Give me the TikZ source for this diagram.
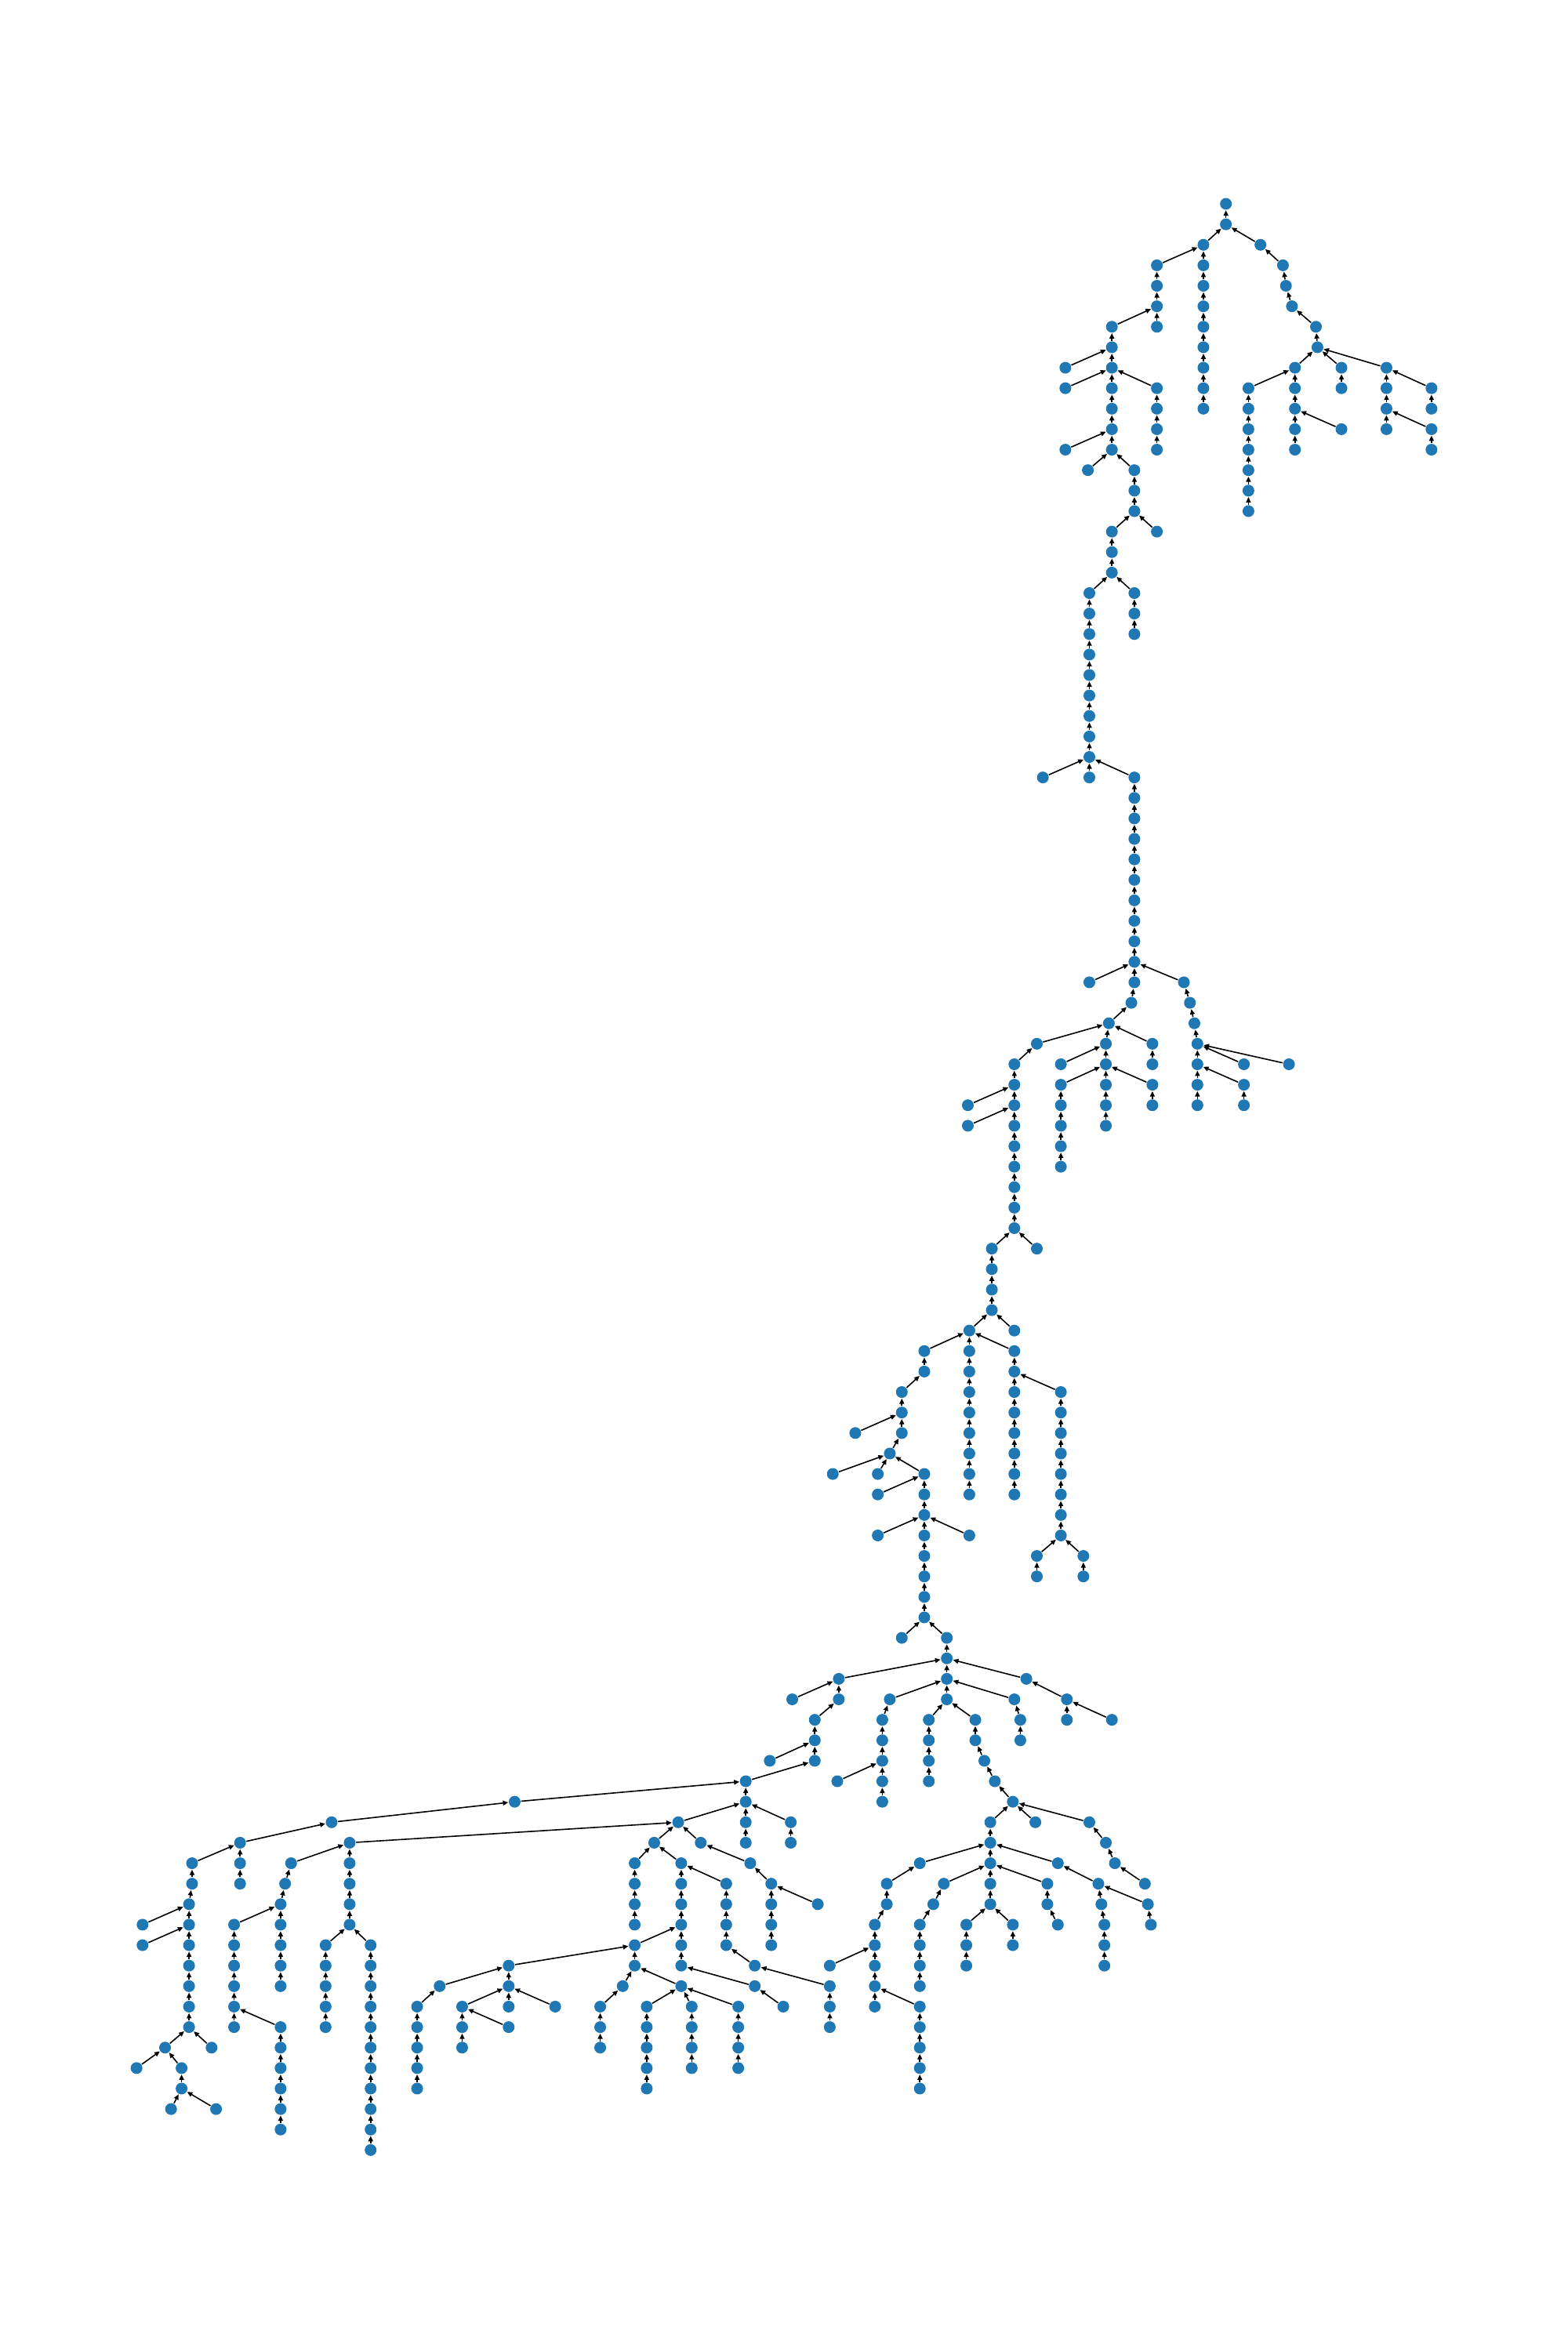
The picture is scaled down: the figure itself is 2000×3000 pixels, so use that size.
\documentclass[tikz,border=0pt]{standalone}
\usetikzlibrary{arrows.meta}
\definecolor{nxblue}{RGB}{31,119,180}
\tikzset{
  dot/.style={circle,fill=nxblue,draw=none,inner sep=0pt,minimum size=0.15cm},
  edgearrow/.style={draw=black,line width=0.016cm,-{Triangle[length=0.068cm,width=0.06cm]}}
}
\def\E{817/1/817/0,
802/2/817/1, 840/2/817/1,
771/3/802/2, 802/3/802/2, 855/3/840/2,
771/4/771/3, 802/4/802/3, 857/4/855/3,
771/5/771/4, 802/5/802/4, 861/5/857/4,
741/6/771/5, 771/6/771/5, 802/6/802/5, 877/6/861/5,
741/7/741/6, 802/7/802/6, 878/7/877/6,
710/8/741/7, 741/8/741/7, 802/8/802/7, 863/8/878/7, 894/8/878/7, 924/8/878/7,
710/9/741/8, 741/9/741/8, 771/9/741/8, 802/9/802/8, 832/9/863/8, 863/9/863/8, 894/9/894/8, 924/9/924/8, 954/9/924/8,
741/10/741/9, 771/10/771/9, 802/10/802/9, 832/10/832/9, 863/10/863/9, 924/10/924/9, 954/10/954/9,
741/11/741/10, 771/11/771/10, 832/11/832/10, 863/11/863/10, 894/11/863/10, 924/11/924/10, 954/11/924/10,
710/12/741/11, 741/12/741/11, 771/12/771/11, 832/12/832/11, 863/12/863/11, 954/12/954/11,
725/13/741/12, 756/13/741/12, 832/13/832/12,
756/14/756/13, 832/14/832/13,
756/15/756/14, 832/15/832/14,
741/16/756/15, 771/16/756/15,
741/17/741/16,
741/18/741/17,
726/19/741/18, 756/19/741/18,
726/20/726/19, 756/20/756/19,
726/21/726/20, 756/21/756/20,
726/22/726/21, 726/23/726/22, 726/24/726/23, 726/25/726/24, 726/26/726/25, 726/27/726/26,
695/28/726/27, 726/28/726/27, 756/28/726/27,
756/29/756/28, 756/30/756/29, 756/31/756/30, 756/32/756/31, 756/33/756/32, 756/34/756/33, 756/35/756/34, 756/36/756/35,
756/37/756/36,
726/38/756/37, 756/38/756/37, 789/38/756/37,
754/39/756/38, 793/39/789/38,
739/40/754/39, 796/40/793/39,
691/41/739/40, 737/41/739/40, 768/41/739/40, 798/41/796/40,
676/42/691/41, 707/42/737/41, 737/42/737/41, 768/42/768/41, 798/42/798/41, 829/42/798/41, 859/42/798/41,
676/43/676/42, 707/43/737/42, 737/43/737/42, 768/43/737/42, 798/43/798/42, 829/43/798/42,
645/44/676/43, 676/44/676/43, 707/44/707/43, 737/44/737/43, 768/44/768/43, 798/44/798/43, 829/44/829/43,
645/45/676/44, 676/45/676/44, 707/45/707/44, 737/45/737/44,
676/46/676/45, 707/46/707/45,
676/47/676/46, 707/47/707/46,
676/48/676/47, 676/49/676/48, 676/50/676/49,
661/51/676/50, 691/51/676/50,
661/52/661/51, 661/53/661/52, 661/54/661/53,
646/55/661/54, 676/55/661/54,
616/56/646/55, 646/56/646/55, 676/56/646/55,
616/57/616/56, 646/57/646/56, 676/57/676/56,
601/58/616/57, 646/58/646/57, 676/58/676/57, 707/58/676/57,
601/59/601/58, 646/59/646/58, 676/59/676/58, 707/59/707/58,
570/60/601/59, 601/60/601/59, 646/60/646/59, 676/60/676/59, 707/60/707/59,
593/61/601/60, 646/61/646/60, 676/61/676/60, 707/61/707/60,
555/62/593/61, 585/62/593/61, 616/62/593/61, 646/62/646/61, 676/62/676/61, 707/62/707/61,
585/63/616/62, 616/63/616/62, 646/63/646/62, 676/63/676/62, 707/63/707/62,
616/64/616/63, 707/64/707/63,
585/65/616/64, 616/65/616/64, 646/65/616/64, 707/65/707/64,
616/66/616/65, 691/66/707/65, 722/66/707/65,
616/67/616/66, 691/67/691/66, 722/67/722/66,
616/68/616/67,
616/69/616/68,
601/70/616/69, 631/70/616/69,
631/71/631/70,
559/72/631/71, 631/72/631/71, 684/72/631/71,
528/73/559/72, 559/73/559/72, 593/73/631/72, 631/73/631/72, 676/73/631/72, 711/73/684/72,
543/74/559/73, 588/74/593/73, 619/74/631/73, 650/74/631/73, 680/74/676/73, 711/74/711/73, 741/74/711/73,
543/75/543/74, 588/75/588/74, 619/75/619/74, 650/75/650/74, 680/75/680/74,
513/76/543/75, 543/76/543/75, 588/76/588/75, 619/76/619/75, 656/76/650/75,
497/77/543/76, 558/77/588/76, 588/77/588/76, 619/77/619/76, 663/77/656/76,
343/78/497/77, 497/78/497/77, 588/78/588/77, 675/78/663/77,
221/79/343/78, 452/79/497/78, 497/79/497/78, 527/79/497/78, 660/79/675/78, 690/79/675/78, 726/79/675/78,
160/80/221/79, 233/80/452/79, 436/80/452/79, 467/80/452/79, 497/80/497/79, 527/80/527/79, 660/80/660/79, 737/80/726/79,
128/81/160/80, 160/81/160/80, 194/81/233/80, 233/81/233/80, 423/81/436/80, 454/81/436/80, 500/81/467/80, 613/81/660/80, 660/81/660/80, 705/81/660/80, 743/81/737/80,
128/82/128/81, 160/82/160/81, 190/82/194/81, 233/82/233/81, 423/82/423/81, 454/82/454/81, 484/82/454/81, 514/82/500/81, 591/82/613/81, 629/82/660/81, 660/82/660/81, 698/82/660/81, 732/82/705/81, 763/82/743/81,
126/83/128/82, 187/83/190/82, 233/83/233/82, 423/83/423/82, 454/83/454/82, 484/83/484/82, 514/83/514/82, 545/83/514/82, 591/83/591/82, 622/83/629/82, 660/83/660/82, 698/83/698/82, 734/83/732/82, 765/83/732/82,
95/84/126/83, 126/84/126/83, 156/84/187/83, 187/84/187/83, 233/84/233/83, 423/84/423/83, 454/84/454/83, 484/84/484/83, 514/84/514/83, 583/84/591/83, 613/84/622/83, 644/84/660/83, 675/84/660/83, 705/84/698/83, 736/84/734/83, 767/84/765/83,
95/85/126/84, 126/85/126/84, 156/85/156/84, 187/85/187/84, 217/85/233/84, 247/85/233/84, 423/85/454/84, 454/85/454/84, 484/85/484/84, 514/85/514/84, 583/85/583/84, 613/85/613/84, 644/85/644/84, 675/85/675/84, 736/85/736/84,
126/86/126/85, 156/86/156/85, 187/86/187/85, 217/86/217/85, 247/86/247/85, 339/86/423/85, 423/86/423/85, 454/86/454/85, 503/86/484/85, 553/86/583/85, 583/86/583/85, 613/86/613/85, 644/86/644/85, 736/86/736/85,
126/87/126/86, 156/87/156/86, 187/87/187/86, 217/87/217/86, 247/87/247/86, 293/87/339/86, 339/87/339/86, 415/87/423/86, 454/87/423/86, 503/87/454/86, 553/87/503/86, 583/87/583/86, 613/87/613/86,
126/88/126/87, 156/88/156/87, 217/88/217/87, 247/88/247/87, 278/88/293/87, 308/88/339/87, 339/88/339/87, 370/88/339/87, 400/88/415/87, 431/88/454/87, 461/88/454/87, 492/88/454/87, 522/88/503/87, 553/88/553/87, 583/88/583/87, 613/88/583/87,
126/89/126/88, 156/89/156/88, 187/89/156/88, 217/89/217/88, 247/89/247/88, 278/89/278/88, 308/89/308/88, 339/89/308/88, 400/89/400/88, 431/89/431/88, 461/89/461/88, 492/89/492/88, 553/89/553/88, 613/89/613/88,
110/90/126/89, 141/90/126/89, 187/90/187/89, 247/90/247/89, 278/90/278/89, 308/90/308/89, 400/90/400/89, 431/90/431/89, 461/90/461/89, 492/90/492/89, 613/90/613/89,
91/91/110/90, 121/91/110/90, 187/91/187/90, 247/91/247/90, 278/91/278/90, 431/91/431/90, 461/91/461/90, 492/91/492/90, 613/91/613/90,
121/92/121/91, 187/92/187/91, 247/92/247/91, 278/92/278/91, 431/92/431/91, 613/92/613/91,
114/93/121/92, 144/93/121/92, 187/93/187/92, 247/93/247/92,
187/94/187/93, 247/94/247/93,
247/95/247/94}
\begin{document}
\begin{tikzpicture}[x=0.01cm,y=-0.01cm]
\useasboundingbox (0,0) rectangle (2000,3000);
\node[dot] (v817-0) at ({817*1.9139},260) {};
\foreach \cx/\cl/\px/\pl in \E {
  \node[dot] (v\cx-\cl) at ({\cx*1.9139},{260+26.13*\cl}) {};
}
\foreach \cx/\cl/\px/\pl in \E {
  \draw[edgearrow] (v\cx-\cl) -- (v\px-\pl);
}
\end{tikzpicture}
\end{document}
